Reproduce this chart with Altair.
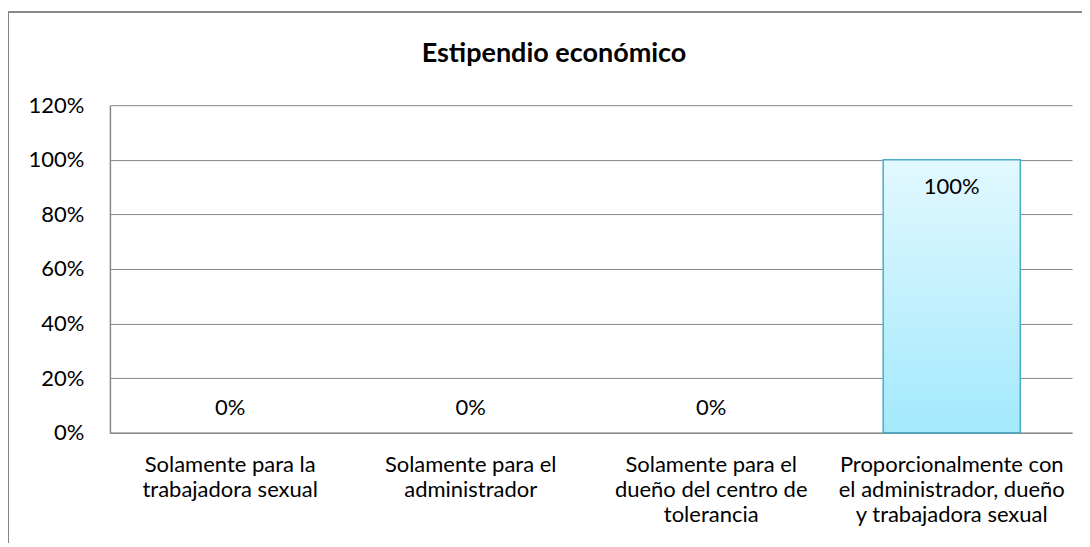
import altair as alt
import pandas as pd

categories = [
    "Solamente para la|trabajadora sexual",
    "Solamente para el|administrador",
    "Solamente para el|dueño del centro de|tolerancia",
    "Proporcionalmente con|el administrador, dueño|y trabajadora sexual",
]
values = [0, 0, 0, 1.0]
labels = ["0%", "0%", "0%", "100%"]
title_text = "Estipendio económico"

df = pd.DataFrame({"cat": categories, "value": values, "label": labels})

FONT = "Lato"
FS = 22
W, H = 963, 328

x = alt.X("cat:N", sort=categories, title=None,
          scale=alt.Scale(paddingInner=0.43, paddingOuter=0.215),
          axis=alt.Axis(labelAngle=0, labelExpr="split(datum.label, '|')",
                        labelFontSize=FS, labelFont=FONT, labelColor="#000000",
                        labelPadding=22, labelLineHeight=25, ticks=False, labelLimit=0,
                        domainColor="#868686", labelBaseline="top"))
y = alt.Y("value:Q", title=None,
          scale=alt.Scale(domain=[0, 1.2], nice=False),
          axis=alt.Axis(format=".0%", values=[0, 0.2, 0.4, 0.6, 0.8, 1.0, 1.2],
                        labelFontSize=FS, labelFont=FONT, labelColor="#000000",
                        labelPadding=26, ticks=False, domainColor="#868686",
                        gridColor="#868686", grid=True))

bars = alt.Chart(df).mark_bar(
    stroke="#4BACC6", strokeWidth=1.5,
    color=alt.Gradient(gradient="linear",
                       stops=[alt.GradientStop(color="#E2F8FF", offset=0),
                              alt.GradientStop(color="#A3E9FC", offset=1)],
                       x1=0, x2=0, y1=0, y2=1),
).encode(x=x, y=y,
         strokeOpacity=alt.condition("datum.value > 0", alt.value(1), alt.value(0)))

txt_pos = alt.Chart(df).transform_filter("datum.value > 0").mark_text(
    font=FONT, fontSize=FS, dy=27, color="#000000"
).encode(x=alt.X("cat:N", sort=categories), y="value:Q", text="label:N")

txt_zero = alt.Chart(df).transform_filter("datum.value == 0").mark_text(
    font=FONT, fontSize=FS, dy=-25, color="#000000"
).encode(x=alt.X("cat:N", sort=categories), y="value:Q", text="label:N")

frame_top = alt.Chart(df).mark_rule(color="#868686", strokeWidth=1.5, clip=False).encode(
    x=alt.value(-102), x2=alt.value(990), y=alt.value(-93))
frame_left = alt.Chart(df).mark_rule(color="#868686", strokeWidth=1.5, clip=False).encode(
    x=alt.value(-102), y=alt.value(-93), y2=alt.value(450))

chart = alt.layer(bars, txt_pos, txt_zero, frame_top, frame_left).properties(
    width=W, height=H,
    title=alt.TitleParams(title_text, font=FONT, fontSize=27, fontWeight="bold",
                          color="#000000", dx=-37, offset=-57, anchor="middle"),
    autosize=alt.AutoSizeParams(type="none"),
    padding={"left": 102, "top": 97, "right": 10, "bottom": 110},
).configure_view(stroke=None).configure_axis(gridWidth=1, domainWidth=1.5)

chart.save("out.html", embed_options={"renderer": "svg", "actions": False})
